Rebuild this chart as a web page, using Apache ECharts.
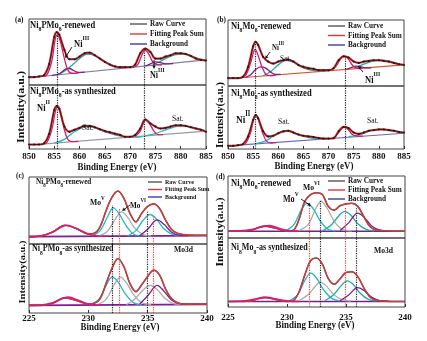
<!DOCTYPE html>
<html><head><meta charset="utf-8">
<script src="https://cdn.jsdelivr.net/npm/echarts@6/dist/echarts.min.js"></script>
<style>html,body{margin:0;padding:0;background:#fff}#c{width:427px;height:341px}</style>
</head><body><div id="c"></div>
<script>
// ---------- DATA ----------
const niTicks = [850, 885];
const moTicks = [225, 240];
const niX = [850,851,852,853,854,855,855.5,856,857,858,859,860,861,862,863,864,865,866,867,868,869,870,871,872,873,874,875,876,877,878,879,880,881,882,883,884,885];
const aTopRaw = [12,12,13,15,32,73,80,76,53,39,39,43,48,49,45,40,35,31,28,27,27,27,31,48,55,50,40,40,43,45,48,48,47,44,40,38,37];
const aBotRaw = [7,7,7,9,24,61,67,63,35,27,30,33,36,36,34,31,28,26,24,22,19,19,22,32,46,40,35,32,33,35,37,37,36,34,32,30,27];
const bTopRaw = [12,12,12,14,29,60,67,62,44,37,34,37,39,40,37,32,29,27,26,24,24,24,27,39,45,43,37,35,37,38,39,39,38,37,35,33,32];
const bBotRaw = [5,5,6,8,20,46,54,49,28,20,21,25,28,29,26,23,21,20,19,17.5,16.5,16.5,17,28,35,33,26,24,26,29,30,31,31,30,29,27,26];
const bgNiX = [850, 885];
const aTopBg = [11, 38];
const aBotBg = [6, 28];
const bTopBg = [11, 32];
const bBotBg = [5, 25];

const moX = [225,226,227,228,229,230,230.5,231,231.5,232,232.5,233,233.5,234,234.5,235,235.5,236,236.5,237,237.5,238,239,240];
const cTopRaw = [11,12,18,28,23,15,16,26,50,70,79,68,46,33,46,56,60,53,36,22,16,14,13,13];
const cBotRaw = [11,11,14,22,18,13,14,21,43,65,79,67,43,31,41,53,62,55,35,21,15,13,13,13];
const dTopRaw = [11,11,13,19,16,11,12,29,59,70,73,70,51,45,52,55,56,51,35,19,13,12,11,11];
const dBotRaw = [8,8,9,14,11,8,9,21,46,67,71,62,41,33,41,50,51,44,28,15,10,9,8,8];
const bgMoX = [225, 240];
const cTopBg = [11, 12.5];
const cBotBg = [11, 12.5];
const dTopBg = [11, 11];
const dBotBg = [8, 8];

// fitted components (binding energy, intensity)
const aTopMain = [[852.5,13],[853.5,15],[854.5,36],[855.2,70],[855.6,76],[856.2,66],[857,40],[857.8,21],[858.8,17.5],[859.8,18.5]];
const aTopNi3 = [[854.5,14.5],[856,17],[857.2,24],[858,25],[858.8,22],[859.8,19],[861,19.5]];
const aTopSat = [[855.5,15.5],[857,21],[858.5,30],[860,40],[861.5,47],[863,45],[864.5,38],[866,31],[867.5,28],[869,27],[870.5,27]];
const aTopMain2 = [[870.5,26.5],[871.5,31],[872.3,45],[872.9,53],[873.6,48],[874.4,36],[875.3,31],[876.3,30.5]];
const aTopNi3b = [[873,28.8],[874,32],[875,35],[876,34],[877,32],[878.5,32.5]];
const aTopSat2 = [[874.5,30],[876,36],[877.5,42],[879,46],[880.5,47],[882,44],[883.5,40],[885,37.5]];
const aBotMain = [[852.5,7.5],[853.5,10],[854.5,30],[855.2,58],[855.6,66],[856.2,57],[857,30],[857.8,14],[858.8,11.5],[859.8,12]];
const aBotSat = [[855,9],[857,15],[859,27],[861.5,35],[863,33],[865,27],[867,22],[869,19],[871,18.5],[872.5,19.5]];
const aBotMain2 = [[871,19.5],[872,28],[872.7,42],[873.1,45],[873.8,40],[874.7,28],[875.5,22.5],[876.5,22.5]];
const aBotSat2 = [[873,20.5],[875,24],[877,30],[879,35],[880.5,36],[882,34],[885,28]];

const bTopMain = [[852.5,12.5],[853.5,16],[854.5,35],[855.1,52],[855.4,55],[856,46],[856.8,28],[857.6,17],[858.5,15.5],[859.5,16.5]];
const bTopNi3 = [[853.5,13],[854.5,17],[855.5,25],[856.5,29],[857.5,27],[858.5,21],[859.5,17.5],[860.5,17.5]];
const bTopSat = [[857,15.5],[858.5,22],[860,32],[861.5,39],[863,36],[864.5,29],[866,25],[868,23],[869.5,23.5]];
const bTopMain2 = [[870.5,23.5],[871.5,30],[872.5,42],[873.2,45],[874,40],[874.8,31],[875.8,27],[876.8,27]];
const bTopNi3b = [[873.5,25],[874.5,28],[875.5,30],[876.5,29],[877.5,27.5],[878.5,27.5]];
const bTopSat2 = [[875,27],[877,33],[879,38],[880.5,39],[882,37],[884,33],[885,32]];
const bBotMain = [[852.5,6.5],[853.5,9],[854.5,26],[855.1,48],[855.5,53],[856.1,45],[856.9,25],[857.7,12],[858.6,9.5],[859.6,10]];
const bBotSat = [[855.5,8.5],[857.5,13],[859.5,23],[861.5,28],[863,26],[865,20],[867,17],[869,16.5]];
const bBotMain2 = [[870.8,17],[871.8,24],[872.6,32],[873.2,35],[873.9,31],[874.8,22.5],[875.8,20.5],[876.8,20.5]];
const bBotSat2 = [[874,19.5],[876,22],[878,28],[880,31],[882,30],[884,27],[885,26]];

const cTopHump = [[225,11],[226,12],[227,18],[228.2,28],[229,23],[230,15],[230.8,12],[231.5,11.5]];
const cTopMoV = [[230.3,12],[231,20],[231.6,40],[232.1,54],[232.6,45],[233.2,27],[233.8,15],[234.5,12]];
const cTopMoVI = [[230.8,11.5],[231.6,19],[232.3,38],[232.8,48],[233.3,40],[233.9,24],[234.6,14],[235.3,12]];
const cTopMoV2 = [[233.3,12],[234,20],[234.6,35],[235.2,44],[235.7,38],[236.3,24],[237,15],[237.7,12.5]];
const cTopMoVI2 = [[234.3,12],[235,22],[235.8,36],[236.4,29],[237,18],[237.7,13],[238.4,12.5]];
const cBotHump = [[225,11],[226,11.5],[227,15],[228.3,23],[229.2,18],[230,13],[231,11.5]];
const cBotMoV = [[230.2,12],[230.9,20],[231.5,40],[232,52],[232.5,45],[233.1,28],[233.8,15],[234.5,12]];
const cBotMoVI = [[230.7,11.5],[231.5,20],[232.2,42],[232.7,52],[233.2,44],[233.8,27],[234.5,15],[235.3,12]];
const cBotMoV2 = [[233.2,12],[233.9,20],[234.6,33],[235.2,40],[235.8,34],[236.4,22],[237.1,14],[237.8,12.5]];
const cBotMoVI2 = [[234.3,12.5],[235,25],[235.8,40],[236.4,31],[237,19],[237.7,13.5],[238.4,12.5]];

const dTopHump = [[225,11],[226,11.5],[227,13.5],[228.5,20],[229.4,15],[230.2,11.5],[231,11]];
const dTopMoV = [[229.9,11.5],[230.6,22],[231.2,45],[231.7,56],[232.2,48],[232.8,28],[233.4,15],[234.1,11.5]];
const dTopMoVI = [[231,12],[231.8,22],[232.4,46],[232.9,59],[233.4,48],[234,27],[234.7,14],[235.5,11.5]];
const dTopMoV2 = [[233,11.5],[233.7,20],[234.4,36],[234.9,43],[235.4,37],[236,23],[236.7,14],[237.4,11.5]];
const dTopMoVI2 = [[234.5,12],[235.2,24],[236,40],[236.6,32],[237.2,19],[237.9,12.5],[238.6,11.5]];
const dBotHump = [[225,8],[226.5,9],[227.5,12],[228.3,14],[229.2,11],[230.2,8.5],[231,8]];
const dBotMoV = [[230.2,9],[230.9,18],[231.5,38],[232,49],[232.5,42],[233.1,25],[233.8,12.5],[234.5,9]];
const dBotMoVI = [[231,9],[231.8,18],[232.4,30],[232.8,36],[233.3,31],[233.9,19],[234.6,11],[235.4,8.5]];
const dBotMoV2 = [[233.2,9],[233.9,17],[234.6,31],[235.1,38],[235.6,33],[236.2,20],[236.9,11],[237.6,8.5]];
const dBotMoVI2 = [[234.5,9],[235.2,17],[236,28],[236.6,23],[237.2,14],[237.9,9],[238.6,8.5]];

// reference lines: [energy, upper extent]
const aTopDots = [[855.6,78],[872.8,52]];
const aBotDots = [[855.6,100],[872.8,100]];
const bTopDots = [[855.5,66],[873.3,45]];
const bBotDots = [[855.5,100],[873.3,100]];
const cTopBlack = [[232.0,58],[235.0,48]];
const cTopRed = [[232.6,52],[235.5,42]];
const cBotBlack = [[232.0,100],[235.0,100]];
const cBotRed = [[232.6,100],[235.5,100]];
const dTopRed = [[231.9,58],[234.9,50]];
const dTopBlack = [[232.8,62],[235.9,48]];
const dBotRed = [[231.9,100],[234.9,100]];
const dBotBlack = [[232.8,100],[235.9,100]];

// ---------- STYLE / LAYOUT ----------
const F = '"Liberation Serif","Times New Roman",serif';
const MAG = '#d81b72', CYAN = '#22b8c8', PUR = '#7b1f8c', GREY = '#ababab', TEAL = '#1fa8a8', RED = '#e03535', RAW = '#1a1a1a';
const grids = [
  {left:29, top:19, width:177, height:66}, {left:29, top:85, width:177, height:64},
  {left:228, top:20, width:176, height:66}, {left:228, top:86, width:176, height:63},
  {left:29, top:177, width:178, height:67}, {left:29, top:244, width:178, height:69},
  {left:228, top:176, width:177, height:62}, {left:228, top:238, width:177, height:69}
];
const pair = (xs, ys) => xs.map((x, i) => [x, ys[i]]);

const subs = [
  {raw: pair(niX, aTopRaw), bg: pair(bgNiX, aTopBg), bgc: '#7f7f9a', mo: false,
   comps: [[aTopSat, TEAL], [aTopSat2, TEAL], [aTopNi3, PUR], [aTopNi3b, PUR], [aTopMain, MAG], [aTopMain2, MAG]],
   black: aTopDots, red: []},
  {raw: pair(niX, aBotRaw), bg: pair(bgNiX, aBotBg), bgc: '#9a9aa6', mo: false,
   comps: [[aBotSat, CYAN], [aBotSat2, CYAN], [aBotMain, MAG], [aBotMain2, MAG]],
   black: aBotDots, red: []},
  {raw: pair(niX, bTopRaw), bg: pair(bgNiX, bTopBg), bgc: '#e0502a', mo: false,
   comps: [[bTopSat, TEAL], [bTopSat2, TEAL], [bTopNi3, PUR], [bTopNi3b, PUR], [bTopMain, MAG], [bTopMain2, MAG]],
   black: bTopDots, red: []},
  {raw: pair(niX, bBotRaw), bg: pair(bgNiX, bBotBg), bgc: '#6a6ab8', mo: false,
   comps: [[bBotSat, CYAN], [bBotSat2, CYAN], [bBotMain, MAG], [bBotMain2, MAG]],
   black: bBotDots, red: []},
  {raw: pair(moX, cTopRaw), bg: pair(bgMoX, cTopBg), bgc: PUR, mo: true,
   comps: [[cTopMoVI, GREY], [cTopMoV, CYAN], [cTopMoV2, CYAN], [cTopMoVI2, PUR]], hump: cTopHump,
   black: cTopBlack, red: cTopRed},
  {raw: pair(moX, cBotRaw), bg: pair(bgMoX, cBotBg), bgc: PUR, mo: true,
   comps: [[cBotMoVI, GREY], [cBotMoV, CYAN], [cBotMoV2, GREY], [cBotMoVI2, PUR]], hump: cBotHump,
   black: cBotBlack, red: cBotRed},
  {raw: pair(moX, dTopRaw), bg: pair(bgMoX, dTopBg), bgc: PUR, mo: true,
   comps: [[dTopMoVI, GREY], [dTopMoV, CYAN], [dTopMoV2, TEAL], [dTopMoVI2, PUR]], hump: dTopHump,
   black: dTopBlack, red: dTopRed},
  {raw: pair(moX, dBotRaw), bg: pair(bgMoX, dBotBg), bgc: PUR, mo: true,
   comps: [[dBotMoVI, GREY], [dBotMoV, CYAN], [dBotMoV2, TEAL], [dBotMoVI2, PUR]], hump: dBotHump,
   black: dBotBlack, red: dBotRed}
];
const labelMargins = [0, 3.5, 0, 3.5, 0, 1.5, 0, 6];

const xAxes = [], yAxes = [], series = [];
subs.forEach((s, i) => {
  const ticks = s.mo ? moTicks : niTicks;
  const bottom = i % 2 === 1;
  xAxes.push({gridIndex: i, type: 'value', min: ticks[0], max: ticks[1], interval: 5,
    axisLine: {show: false}, splitLine: {show: false},
    axisTick: {show: bottom, inside: true, length: 3, lineStyle: {color: '#333'}},
    axisLabel: {show: bottom, margin: labelMargins[i], color: '#111', fontSize: 9, fontWeight: 'bold', fontFamily: F}});
  yAxes.push({gridIndex: i, type: 'value', min: 0, max: 100, show: false});
  const base = {type: 'line', xAxisIndex: i, yAxisIndex: i, showSymbol: false, symbol: 'none', silent: true, animation: false, smooth: 0.35};
  const ml = (arr, color) => ({symbol: 'none', silent: true, label: {show: false},
    lineStyle: {type: 'dotted', color: color, width: 1.2},
    data: arr.map(d => [{coord: [d[0], 0]}, {coord: [d[0], d[1]]}])});
  series.push(Object.assign({}, base, {data: [], z: 1, markLine: ml(s.black, '#222')}));
  if (s.red.length) series.push(Object.assign({}, base, {data: [], z: 1, markLine: ml(s.red, '#e04040')}));
  series.push(Object.assign({}, base, {data: s.bg, smooth: false, z: 2, lineStyle: {color: s.bgc, width: s.mo ? 1.6 : 1.1}}));
  s.comps.forEach(c => series.push(Object.assign({}, base, {data: c[0], z: 3, lineStyle: {color: c[1], width: 1.3}})));
  if (s.mo) {
    series.push(Object.assign({}, base, {data: s.raw, z: 4, lineStyle: {color: '#555', width: 1.6}}));
    series.push(Object.assign({}, base, {data: s.raw, z: 5, lineStyle: {color: RED, width: 1.2}}));
    series.push(Object.assign({}, base, {data: s.hump, z: 6, lineStyle: {color: MAG, width: 1.6}}));
  } else {
    series.push(Object.assign({}, base, {data: s.raw, z: 4, lineStyle: {color: RED, width: 2.2}}));
    series.push(Object.assign({}, base, {data: s.raw, z: 5, showSymbol: true, symbol: 'circle', symbolSize: 2,
      itemStyle: {color: RAW}, lineStyle: {color: RAW, width: 0.9}}));
  }
});

// ---------- TEXT / ANNOTATIONS ----------
const SX = 0.85;
function txt(x, y, text, size, o) {
  o = o || {};
  return {type: 'text', x: x, y: y, scaleX: o.sx || SX, rotation: o.rot || 0, z: 100,
    style: {text: text, fill: '#111', font: (o.normal ? '' : 'bold ') + size + 'px ' + F,
      align: o.align || 'left', verticalAlign: 'middle', textAlign: o.align || 'left', textVerticalAlign: 'middle'}};
}
function sub(x, y, parts, size) { // parts: [text, 'n'|'s']
  const t = parts.map(p => '{' + p[1] + '|' + p[0] + '}').join('');
  return {type: 'text', x: x, y: y, scaleX: SX, z: 100,
    style: {text: t, fill: '#111', align: 'left', verticalAlign: 'top', textAlign: 'left', textVerticalAlign: 'top',
      rich: {
        n: {font: 'bold ' + size + 'px ' + F, fill: '#111', lineHeight: size + 1, verticalAlign: 'top'},
        s: {font: 'bold ' + (size * 0.68).toFixed(1) + 'px ' + F, fill: '#111', lineHeight: size * 0.7, padding: [size * 0.6, 0, 0, 0], verticalAlign: 'top'}
      }}};
}
function sup(x, y, base, s, size) {
  return {type: 'text', x: x, y: y, scaleX: SX, z: 100,
    style: {text: '{m|' + base + '}{p|' + s + '}', fill: '#111', align: 'left', verticalAlign: 'top', textAlign: 'left', textVerticalAlign: 'top',
      rich: {
        m: {font: 'bold ' + size + 'px ' + F, fill: '#111', lineHeight: size + 1, padding: [size * 0.4, 0, 0, 0], verticalAlign: 'top'},
        p: {font: 'bold ' + (size * 0.68).toFixed(1) + 'px ' + F, fill: '#111', lineHeight: size * 0.7, verticalAlign: 'top'}
      }}};
}
function arrow(x1, y1, x2, y2) {
  const dx = x2 - x1, dy = y2 - y1, L = Math.hypot(dx, dy), ux = dx / L, uy = dy / L;
  const bx = x2 - ux * 3.5, by = y2 - uy * 3.5;
  return [
    {type: 'line', z: 100, shape: {x1: x1, y1: y1, x2: bx, y2: by}, style: {stroke: '#111', lineWidth: 0.9}},
    {type: 'polygon', z: 100, shape: {points: [[x2, y2], [bx - uy * 1.7, by + ux * 1.7], [bx + uy * 1.7, by - ux * 1.7]]}, style: {fill: '#111'}}
  ];
}
function legend(x, y, gap, size, len, cols) {
  const names = ['Raw Curve', 'Fitting Peak Sum', 'Background'];
  const out = [];
  names.forEach((n, i) => {
    out.push({type: 'line', z: 100, shape: {x1: x, y1: y + i * gap, x2: x + len, y2: y + i * gap}, style: {stroke: cols[i], lineWidth: 1.4}});
    out.push(txt(x + len + 3, y + i * gap, n, size));
  });
  return out;
}
const niNameTop = [['Ni','n'],['8','s'],['PMo','n'],['8','s'],['-renewed','n']];
const niNameBot = [['Ni','n'],['8','s'],['PMo','n'],['8','s'],['-as synthesized','n']];
const niMoTop = [['Ni','n'],['8','s'],['Mo','n'],['8','s'],['-renewed','n']];
const niMoBot = [['Ni','n'],['8','s'],['Mo','n'],['8','s'],['-as synthesized','n']];
const legCols = ['#555', RED, '#3b3bb0'];

const graphic = [].concat(
  // panel letters
  txt(15, 20, '(a)', 8.5), txt(217, 20, '(b)', 8.5), txt(16, 176, '(c)', 8.5), txt(216, 177, '(d)', 8.5),
  // (a)
  sub(30, 20, niNameTop, 10), sub(30, 86, niNameBot, 10),
  sup(74, 35, 'Ni', 'III', 10), arrow(72, 47, 65, 58),
  sup(150, 67, 'Ni', 'III', 9.5), arrow(154, 60, 154, 69),
  sup(37, 99, 'Ni', 'II', 10),
  txt(82, 128, 'Sat.', 9, {normal: true}), txt(172, 119, 'Sat.', 9, {normal: true}),
  legend(130, 24, 10, 8.5, 17, legCols),
  // (b)
  sub(231, 21, niMoTop, 10), sub(231, 88, niMoBot, 10),
  sup(272, 41, 'Ni', 'III', 8), arrow(270, 52, 265, 59),
  txt(280, 59, 'Sat.', 8.5, {normal: true}),
  sup(365, 71, 'Ni', 'III', 10), arrow(363, 72, 358, 66),
  sup(236, 110, 'Ni', 'II', 11),
  txt(278, 122, 'Sat.', 9, {normal: true}), txt(367, 121, 'Sat.', 9, {normal: true}),
  legend(328, 26, 9.5, 8.5, 17, legCols),
  // (c)
  sub(36, 177, niNameTop, 8.5), sub(32, 244, niNameBot, 9.5),
  sup(90, 195, 'Mo', 'V', 9), sup(130, 198, 'Mo', 'VI', 8.5), arrow(130, 205, 122, 211),
  txt(174, 250, 'Mo3d', 9),
  legend(148, 182, 7.5, 7, 14, legCols),
  // (d)
  sub(231, 178, niMoTop, 10), sub(231, 243, niMoBot, 9.5),
  sup(303, 180, 'Mo', 'VI', 9), sup(283, 191, 'Mo', 'V', 9.5), arrow(301, 199, 311, 206),
  txt(374, 251, 'Mo3d', 9),
  legend(328, 181, 9, 8.5, 17, legCols),
  // axis titles
  txt(117, 167, 'Binding Energy (eV)', 10.5, {align: 'center'}),
  txt(314, 166, 'Binding Energy (eV)', 10.5, {align: 'center'}),
  txt(120, 327, 'Binding Energy (eV)', 10.5, {align: 'center'}),
  txt(315, 325, 'Binding Energy (eV)', 10.5, {align: 'center'}),
  {type: 'text', x: 21, y: 107, rotation: Math.PI / 2, scaleY: 0.85, z: 100, style: {text: 'Intensity(a.u.)', fill: '#111', font: 'bold 12px ' + F, align: 'center', verticalAlign: 'middle', textAlign: 'center', textVerticalAlign: 'middle'}},
  {type: 'text', x: 221, y: 115, rotation: Math.PI / 2, scaleY: 0.85, z: 100, style: {text: 'Intensity(a.u.)', fill: '#111', font: 'bold 11px ' + F, align: 'center', verticalAlign: 'middle', textAlign: 'center', textVerticalAlign: 'middle'}},
  {type: 'text', x: 23, y: 272, rotation: Math.PI / 2, scaleY: 0.85, z: 100, style: {text: 'Intensity(a.u.)', fill: '#111', font: 'bold 10.5px ' + F, align: 'center', verticalAlign: 'middle', textAlign: 'center', textVerticalAlign: 'middle'}},
  {type: 'text', x: 220, y: 232, rotation: Math.PI / 2, scaleY: 0.85, z: 100, style: {text: 'Intensity(a.u.)', fill: '#111', font: 'bold 11.5px ' + F, align: 'center', verticalAlign: 'middle', textAlign: 'center', textVerticalAlign: 'middle'}}
);

const chart = echarts.init(document.getElementById('c'), null, {renderer: 'canvas'});
chart.setOption({
  animation: false,
  backgroundColor: '#fff',
  grid: grids.map(g => Object.assign({show: true, borderColor: '#444', borderWidth: 1, backgroundColor: 'transparent', containLabel: false}, g)),
  xAxis: xAxes, yAxis: yAxes, series: series, graphic: graphic
});
</script></body></html>
